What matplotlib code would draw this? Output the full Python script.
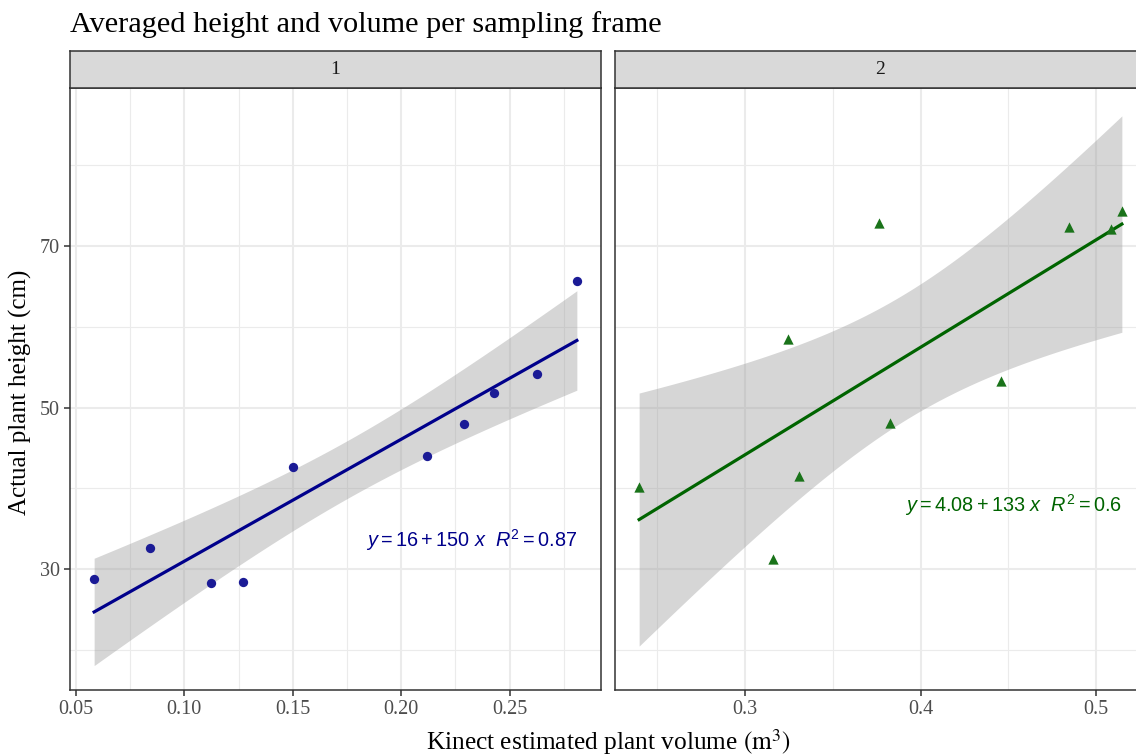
import numpy as np
import matplotlib
matplotlib.use("Agg")
import matplotlib.pyplot as plt
from matplotlib.ticker import FixedLocator

plt.rcParams['font.family'] = ['Liberation Serif', 'DejaVu Serif']
plt.rcParams['mathtext.fontset'] = 'custom'
plt.rcParams['mathtext.rm'] = 'Liberation Sans'
plt.rcParams['mathtext.it'] = 'Liberation Sans:italic'

# Data
vol_1 = [0.0584, 0.0842, 0.1122, 0.1271, 0.1499, 0.2118, 0.2288, 0.2428, 0.2627, 0.2810]
height_1 = [28.8, 32.6, 28.2, 28.4, 42.6, 44.0, 48.0, 51.8, 54.2, 65.7]
vol_2 = [0.2397, 0.3157, 0.3246, 0.3308, 0.3766, 0.3826, 0.4457, 0.4847, 0.5087, 0.5147]
height_2 = [40.1, 31.2, 58.5, 41.5, 72.9, 48.1, 53.3, 72.4, 72.1, 74.4]

frames = ["1", "2"]
eq_labels = [r"$y = 16 + 150\ x\ \ R^2 = 0.87$", r"$y = 4.08 + 133\ x\ \ R^2 = 0.6$"]
label_y = [33.6, 37.9]

point_cols = ['#1B1B96', '#1A731A']
line_cols = ['#00008B', '#006400']
markers = ['o', '^']

T_CRIT = 2.306  # t(0.975, df=8)


def fit_band(x, y):
    x = np.asarray(x)
    y = np.asarray(y)
    n = len(x)
    b, a = np.polyfit(x, y, 1)
    resid = y - (a + b * x)
    s = np.sqrt(np.sum(resid ** 2) / (n - 2))
    xs = np.linspace(x.min(), x.max(), 80)
    se = s * np.sqrt(1 / n + (xs - x.mean()) ** 2 / np.sum((x - x.mean()) ** 2))
    fit = a + b * xs
    return xs, fit, fit - T_CRIT * se, fit + T_CRIT * se


fig = plt.figure(figsize=(11.36, 7.56), dpi=100)
W, H = 1136, 756

panels = [(70, 601), (615, 1146)]
top, bottom = 88, 690
strip_top = 51

xticks = [[0.05, 0.10, 0.15, 0.20, 0.25], [0.3, 0.4, 0.5]]
xtick_labels = [["0.05", "0.10", "0.15", "0.20", "0.25"], ["0.3", "0.4", "0.5"]]
xminor = [[0.075, 0.125, 0.175, 0.225, 0.275], [0.25, 0.35, 0.45]]

data = [(vol_1, height_1), (vol_2, height_2)]

for i, (l, r) in enumerate(panels):
    ax = fig.add_axes([l / W, (H - bottom) / H, (r - l) / W, (bottom - top) / H])
    x, y = data[i]
    xs, fit, lo, hi = fit_band(x, y)
    ax.fill_between(xs, lo, hi, color='#999999', alpha=0.4, linewidth=0, zorder=2)
    ax.plot(xs, fit, color=line_cols[i], lw=2.3, zorder=3)
    ax.scatter(x, y, color=point_cols[i], marker=markers[i], s=45 if i == 0 else 55,
               linewidths=0, zorder=4)
    ax.text(max(x), label_y[i], eq_labels[i], color=line_cols[i], fontsize=14.3,
            ha='right', va='center', math_fontfamily='custom', zorder=5)

    rng = max(x) - min(x)
    ax.set_xlim(min(x) - 0.05 * rng, max(x) + 0.05 * rng)
    ax.set_ylim(15.0, 89.6)
    ax.xaxis.set_major_locator(FixedLocator(xticks[i]))
    ax.set_xticklabels(xtick_labels[i])
    ax.xaxis.set_minor_locator(FixedLocator(xminor[i]))
    ax.yaxis.set_major_locator(FixedLocator([30, 50, 70]))
    ax.yaxis.set_minor_locator(FixedLocator([20, 40, 60, 80]))
    ax.grid(which='major', color='#EBEBEB', lw=1.5, zorder=0)
    ax.grid(which='minor', color='#EBEBEB', lw=0.8, zorder=0)
    ax.set_axisbelow(True)
    for sp in ax.spines.values():
        sp.set_color('#333333')
        sp.set_linewidth(1.1)
    ax.tick_params(which='major', length=4.5, width=1.1, color='#333333',
                   labelcolor='#4D4D4D', labelsize=14.5, pad=3)
    ax.tick_params(which='minor', length=0)
    if i == 0:
        ax.set_ylabel("Actual plant height (cm)", fontsize=18)
        ax.yaxis.set_label_coords(-0.071, 0.495)
    else:
        ax.tick_params(axis='y', labelleft=False, length=0)

    # facet strip
    sax = fig.add_axes([l / W, (H - top) / H, (r - l) / W, (top - strip_top) / H])
    sax.set_facecolor('#D9D9D9')
    sax.set_xticks([])
    sax.set_yticks([])
    for sp in sax.spines.values():
        sp.set_color('#333333')
        sp.set_linewidth(1.1)
    sax.text(0.5, 0.5, frames[i], transform=sax.transAxes, ha='center', va='center',
             fontsize=14, color='#1A1A1A')

fig.text(70 / W, 1 - 25 / H, "Averaged height and volume per sampling frame",
         fontsize=21.8, ha='left', va='center')
fig.text(608 / W, 1 - 742 / H, r"Kinect estimated plant volume $\left(\mathrm{m}^{3}\right)$",
         fontsize=18.3, ha='center', va='center', math_fontfamily='stix')

fig.savefig("out.png", dpi=100)
